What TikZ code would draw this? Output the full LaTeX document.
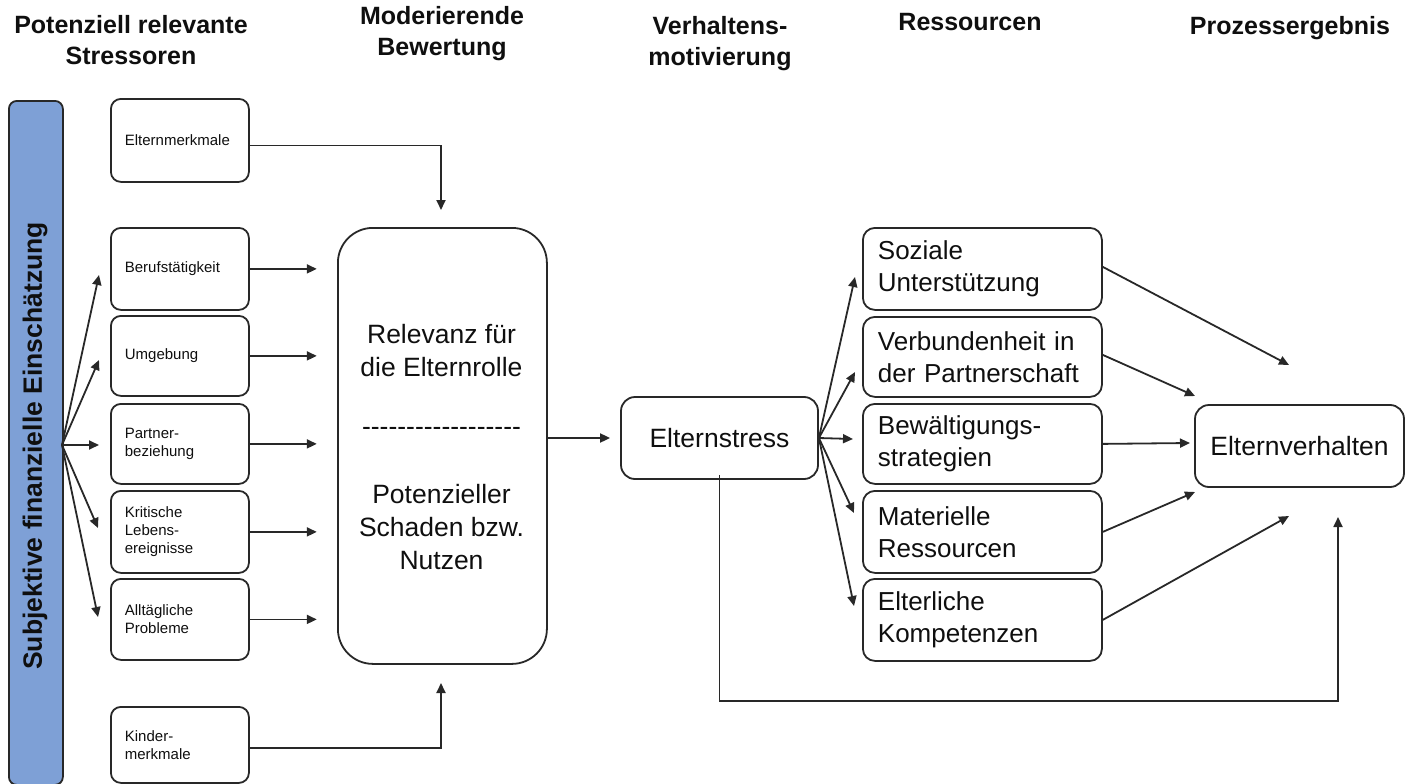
\documentclass[tikz,border=0pt]{standalone}
\usepackage{fontspec}
\setmainfont{Liberation Sans}
\newfontfamily\plainf{Liberation Sans}
\usetikzlibrary{arrows.meta}
\definecolor{barblue}{RGB}{126,160,214}
\definecolor{lncol}{RGB}{40,40,40}
\definecolor{txtcol}{RGB}{15,15,15}
\begin{document}
\begin{tikzpicture}[x=1pt,y=-1pt,
  conn/.style={draw=lncol, line width=1.8pt},
  arr/.style={conn, -{Triangle[length=10pt,width=9pt]}},
  smallbox/.style={draw=lncol, line width=1.8pt, rounded corners=10pt, anchor=north west,
    text width=110pt, inner xsep=14pt, align=left, text=txtcol,
    font=\fontsize{15}{18}\selectfont},
  resbox/.style={draw=lncol, line width=1.8pt, rounded corners=12pt, anchor=north west,
    text width=209pt, inner xsep=15pt, align=left, text=txtcol,
    font=\fontsize{26}{32}\selectfont},
  mainbox/.style={draw=lncol, line width=1.8pt, rounded corners=14pt, text=txtcol,
    font=\fontsize{26.5}{32}\selectfont},
  head/.style={align=center, text=txtcol, font=\bfseries\fontsize{25}{31}\selectfont},
  bigtext/.style={align=center, text=txtcol, font=\fontsize{26.5}{33}\selectfont}
]
\useasboundingbox (0,0) rectangle (1411,784);

% headers
\node[head] (h1) at (131,40) {Potenziell relevante\\Stressoren};
\node[head] (h2) at (442,34) {Moderierende\\Bewertung};
\node[head] (h3) at (720,44) {Verhaltens-\\motivierung};
\node[head] (h4) at (970,22) {Ressourcen};
\node[head] (h5) at (1290,28) {Prozessergebnis};

% blue bar
\node[draw=lncol, line width=1.8pt, fill=barblue, rounded corners=8pt, anchor=north west,
  minimum width=54pt, minimum height=684pt, inner sep=0pt] (bar) at (8,100) {};
\node[rotate=90, text=txtcol, font=\bfseries\fontsize{26.5}{30}\selectfont] (bart) at (35,446)
  {Subjektive finanzielle Einschätzung};

% stressor boxes
\node[smallbox, minimum height=83pt] (eltm) at (110,98) {Elternmerkmale};
\node[smallbox, minimum height=82pt] (beruf) at (110,227) {Berufstätigkeit};
\node[smallbox, minimum height=80pt] (umg) at (110,315) {Umgebung};
\node[smallbox, minimum height=80pt] (partner) at (110,403) {Partner-\\beziehung};
\node[smallbox, minimum height=82pt] (krit) at (110,490) {Kritische\\Lebens-\\ereignisse};
\node[smallbox, minimum height=81pt] (allt) at (110,578) {Alltägliche\\Probleme};
\node[smallbox, minimum height=76pt] (kind) at (110,706) {Kinder-\\merkmale};

% big evaluation box
\node[draw=lncol, line width=1.8pt, rounded corners=35pt, anchor=north west,
  minimum width=209pt, minimum height=436pt, inner sep=0pt] (bew) at (337,227) {};
\node[bigtext] (bt1) at (441.5,351) {Relevanz für\\die Elternrolle};
\node[bigtext, font=\plainf\fontsize{26.5}{33}\selectfont] (bt2) at (441.5,431) {------------------};
\node[bigtext] (bt3) at (441.5,527) {Potenzieller\\Schaden bzw.\\Nutzen};

% Elternstress, Elternverhalten
\node[mainbox, minimum width=197pt, minimum height=82pt] (es) at (719.5,438) {Elternstress};
\node[mainbox, minimum width=209pt, minimum height=82pt] (ev) at (1299.5,446) {Elternverhalten};

% resource boxes
\node[resbox, minimum height=82pt] (soz) at (862,227) {Soziale\\Unterstützung};
\node[resbox, minimum height=80pt] (verb) at (862,316) {Verbundenheit in\\der Partnerschaft};
\node[resbox, minimum height=80pt] (bewa) at (862,403) {Bewältigungs-\\strategien};
\node[resbox, minimum height=82pt] (mat) at (862,490) {Materielle\\Ressourcen};
\node[resbox, minimum height=82pt] (elk) at (862,578) {Elterliche\\Kompetenzen};

% fan from bar
\coordinate (fan) at (62,445);
\coordinate (f1) at (99,275);
\coordinate (f2) at (99,360);
\coordinate (f3) at (99,445);
\coordinate (f4) at (98,528);
\coordinate (f5) at (98,617);
\foreach \t in {f1,f2,f3,f4,f5} \draw[arr] (fan) -- (\t);

% stressors to evaluation
\foreach \b in {beruf,umg,partner,krit,allt} \draw[arr] (\b.east) -- ++(67,0);
\coordinate (eltmend) at (441,210);
\coordinate (kindend) at (441,683);
\draw[arr] ([yshift=-5pt]eltm.east) -| (eltmend);
\draw[arr] ([yshift=-3pt]kind.east) -| (kindend);

% evaluation to Elternstress
\draw[arr, shorten >=10pt] (bew.east |- es.west) -- (es.west);

% fan from Elternstress
\coordinate (r1) at (855,277);
\coordinate (r2) at (855,372);
\coordinate (r3) at (853,439);
\coordinate (r4) at (854,513);
\coordinate (r5) at (854,606);
\foreach \t in {r1,r2,r3,r4,r5} \draw[arr] (es.east) -- (\t);

% resources to Elternverhalten
\coordinate (e1) at (1289,365);
\coordinate (e2) at (1195,396);
\coordinate (e3) at (1190,443);
\coordinate (e4) at (1195,492);
\coordinate (e5) at (1289,516);
\coordinate (e6) at (1338,517);
\draw[arr] ([yshift=2pt]soz.east) -- (e1);
\draw[arr] ([yshift=2pt]verb.east) -- (e2);
\draw[arr] (bewa.east) -- (e3);
\draw[arr] (mat.east) -- (e4);
\draw[arr] (elk.east) -- (e5);

% direct path
\draw[arr] ([yshift=5pt]es.south) -- (es.south |- 0,701) -| (e6);
\end{tikzpicture}
\end{document}
